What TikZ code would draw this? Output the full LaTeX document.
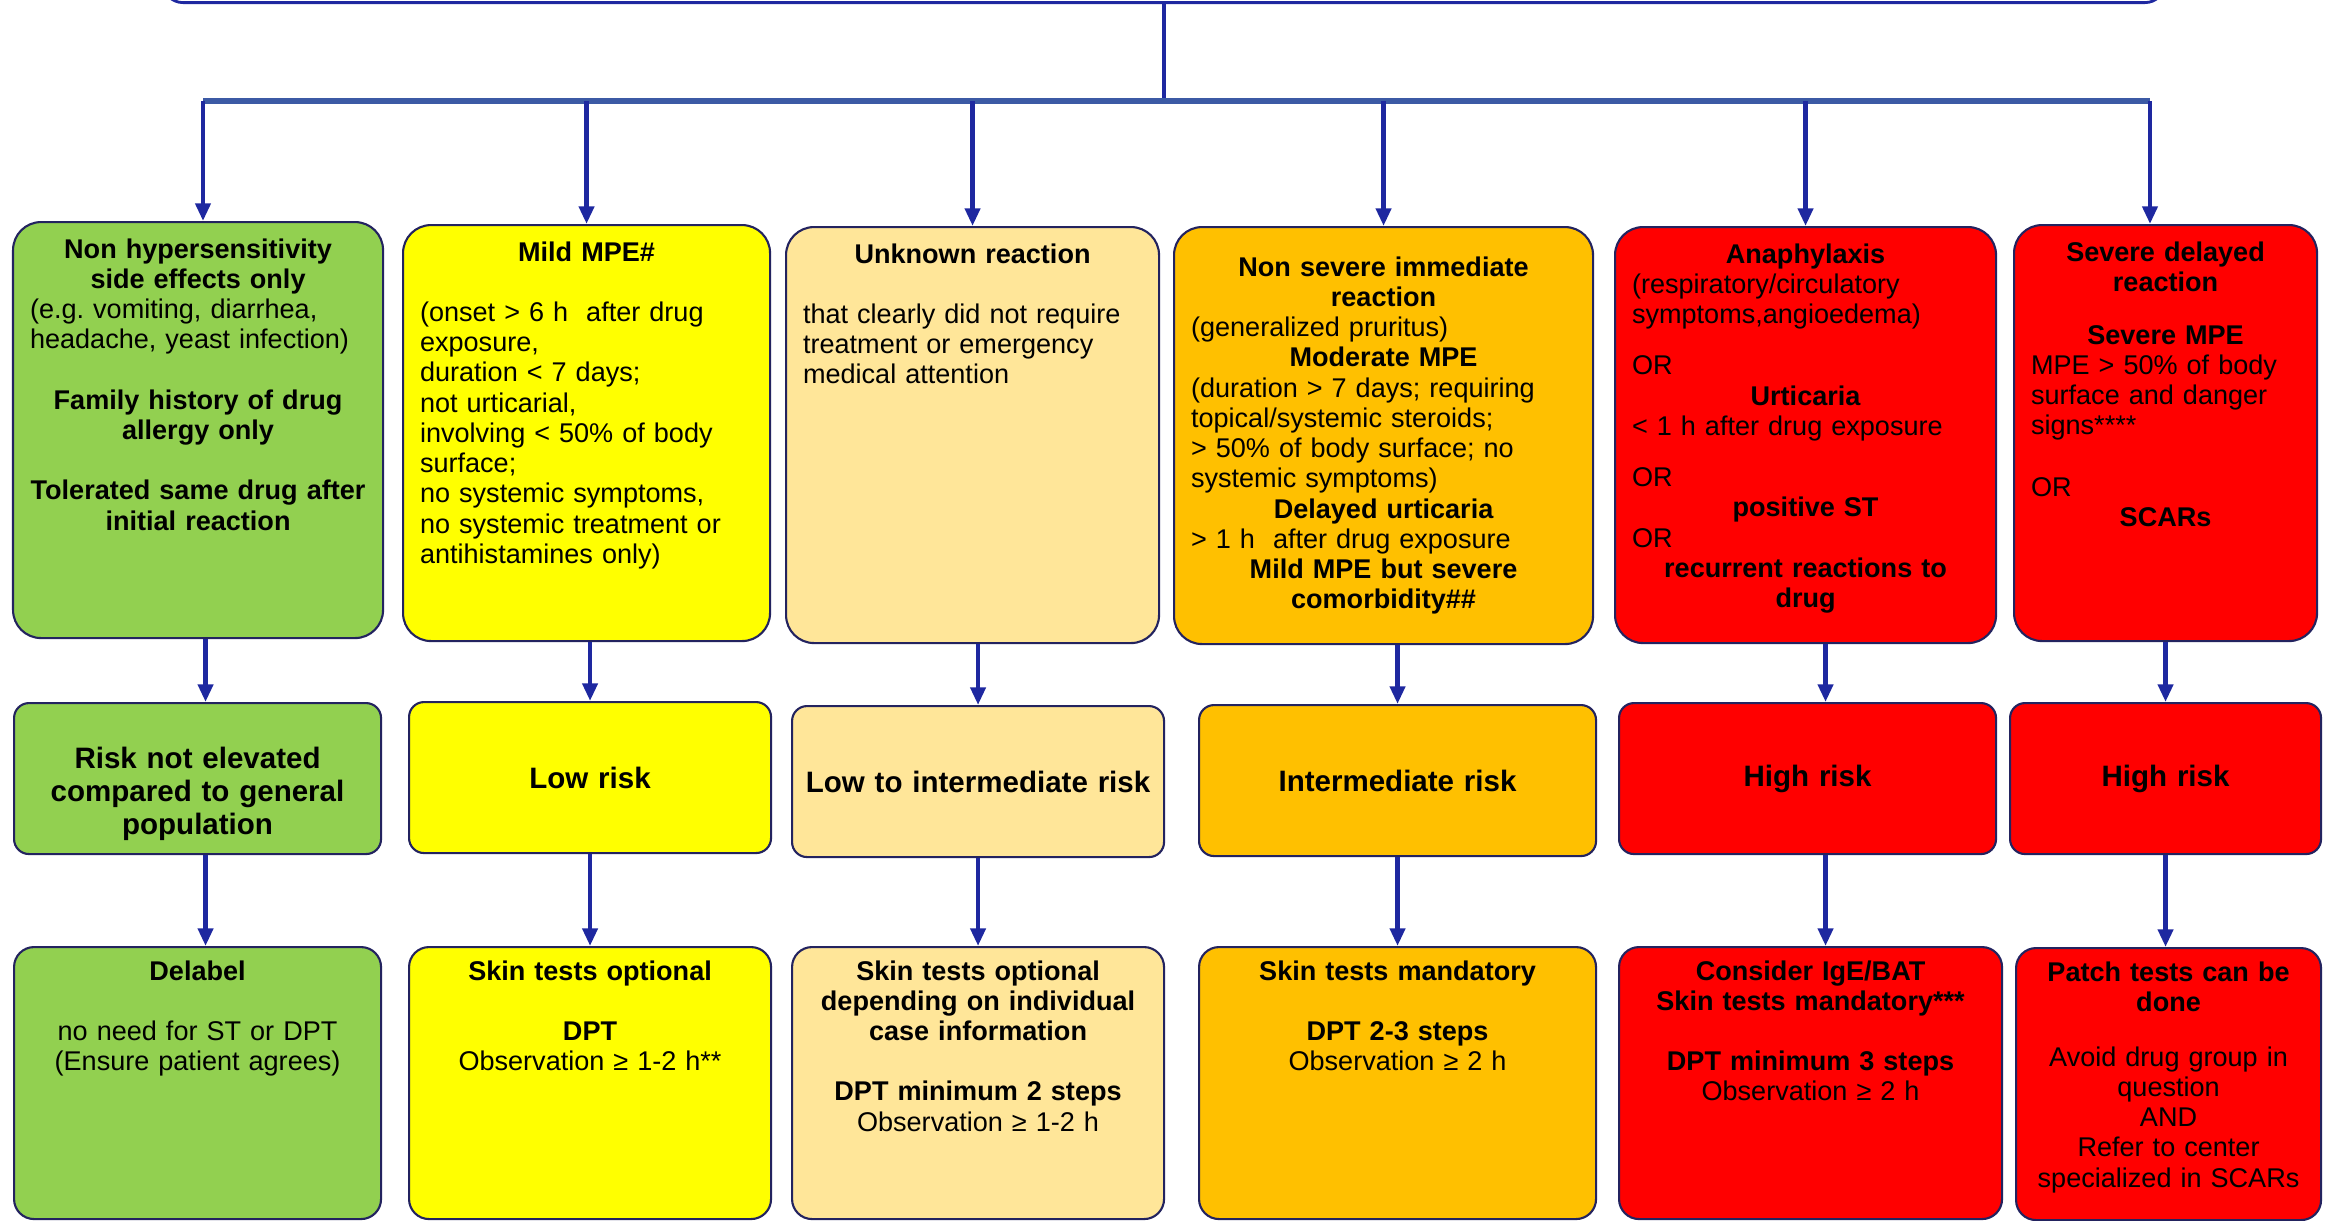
\documentclass[tikz,border=0pt]{standalone}
\usepackage{fontspec}
\setmainfont{Liberation Sans}
\frenchspacing
\usepackage{tikz}
\usetikzlibrary{arrows.meta}

\definecolor{cgreen}{RGB}{146,208,80}
\definecolor{cyellow}{RGB}{255,255,0}
\definecolor{cwheat}{RGB}{255,230,153}
\definecolor{corange}{RGB}{255,192,0}
\definecolor{cred}{RGB}{255,0,0}
\definecolor{edge}{RGB}{35,35,95}
\definecolor{flow}{RGB}{30,40,160}
\definecolor{bus}{RGB}{60,90,165}

\begin{document}
\begin{tikzpicture}[
  card/.style={draw=edge,line width=0.6pt,rounded corners=0.28cm,anchor=north west,align=center,
               inner xsep=0.17cm,inner ysep=0.16cm,font=\fontsize{7.7}{8.6}\selectfont},
  crit/.style={card,text height=0.2cm,text depth=3.64cm},
  risk/.style={card,rounded corners=0.15cm,inner xsep=0.1cm,inner ysep=0.1cm,minimum height=1.51cm,
               font=\fontsize{8.4}{9.5}\selectfont\bfseries},
  plan/.style={card,rounded corners=0.2cm,inner ysep=0.13cm,text height=0.2cm,text depth=2.26cm},
  arr/.style={-{Triangle[length=5pt,width=4.2pt]},line width=1.35pt,draw=flow}]
\useasboundingbox (0,0) rectangle (23.28,-12.20);

% header box, cut by the top edge
\node[draw=flow,line width=0.8pt,rounded corners=0.2cm,minimum width=20.02cm,minimum height=1cm,
      anchor=south] (top) at (11.64,-0.04) {};
\coordinate (busL) at (2.03,-1.01);
\coordinate (busR) at (21.50,-1.01);

% reactions
\node[crit,fill=cgreen,text width=3.36cm] (c1) at (0.12,-2.21)
  {{\bfseries Non hypersensitivity\\side effects only\par}
   {\raggedright (e.g. vomiting, diarrhea,\\headache, yeast infection)\par}\vspace{8.6pt}
   {\bfseries Family history of drug\\allergy only\\[8.6pt]Tolerated same drug after\\initial reaction\par}};
\node[crit,fill=cyellow,text width=3.33cm] (c2) at (4.02,-2.24)
  {{\bfseries Mild MPE\#\par}\vspace{8.6pt}
   {\raggedright (onset > 6 h\ \ after drug\\exposure,\\duration < 7 days;\\not urticarial,\\involving < 50\% of body\\surface;\\no systemic symptoms,\\no systemic treatment or\\antihistamines only)\par}};
\node[crit,fill=cwheat,text width=3.39cm] (c3) at (7.85,-2.26)
  {{\bfseries Unknown reaction\par}\vspace{8.6pt}
   {\raggedright that clearly did not require\\treatment or emergency\\medical attention\par}};
\node[card,fill=corange,text width=3.85cm,minimum height=4.17cm] (c4) at (11.73,-2.26)
  {{\bfseries Non severe immediate\\reaction\par}
   {\raggedright (generalized pruritus)\par}
   {\bfseries Moderate MPE\par}
   {\raggedright (duration > 7 days; requiring\\topical/systemic steroids;\\> 50\% of body surface; no\\systemic symptoms)\par}
   {\bfseries Delayed urticaria\par}
   {\raggedright > 1 h\ \ after drug exposure\par}
   {\bfseries Mild MPE but severe\\comorbidity\#\#\par}};
\node[crit,fill=cred,text width=3.47cm] (c5) at (16.14,-2.26)
  {{\bfseries Anaphylaxis\par}
   {\raggedright (respiratory/circulatory\\symptoms,angioedema)\\[6pt]OR\par}
   {\bfseries Urticaria\par}
   {\raggedright < 1 h after drug exposure\\[6pt]OR\par}
   {\bfseries positive ST\par}
   {\raggedright OR\par}
   {\bfseries recurrent reactions to\\drug\par}};
\node[crit,fill=cred,text width=2.69cm] (c6) at (20.13,-2.24)
  {{\bfseries Severe delayed\\reaction\par}\vspace{6.4pt}
   {\bfseries Severe MPE\par}
   {\raggedright MPE > 50\% of body\\surface and danger\\signs****\\[9pt]OR\par}
   {\bfseries SCARs\par}};

% risk level
\node[risk,fill=cgreen,text width=3.47cm,text height=0.55cm,text depth=0.76cm] (r1) at (0.13,-7.02)
  {Risk not elevated\\compared to general\\population};
\node[risk,fill=cyellow,text width=3.42cm] (r2) at (4.08,-7.01) {Low risk};
\node[risk,fill=cwheat,text width=3.52cm] (r3) at (7.91,-7.05) {Low to intermediate risk};
\node[risk,fill=corange,text width=3.77cm] (r4) at (11.98,-7.04) {Intermediate risk};
\node[risk,fill=cred,text width=3.57cm] (r5) at (16.18,-7.02) {High risk};
\node[risk,fill=cred,text width=2.91cm] (r6) at (20.09,-7.02) {High risk};

% testing
\node[plan,fill=cgreen,text width=3.33cm] (a1) at (0.13,-9.46)
  {{\bfseries Delabel\par}\vspace{8.6pt}no need for ST or DPT\\(Ensure patient agrees)};
\node[plan,fill=cyellow,text width=3.28cm] (a2) at (4.08,-9.46)
  {{\bfseries Skin tests optional\par}\vspace{8.6pt}{\bfseries DPT\par}Observation ≥ 1-2 h**};
\node[plan,fill=cwheat,text width=3.38cm] (a3) at (7.91,-9.46)
  {{\bfseries Skin tests optional\\depending on individual\\case information\par}\vspace{8.6pt}
   {\bfseries DPT minimum 2 steps\par}Observation ≥ 1-2 h};
\node[plan,fill=corange,text width=3.63cm] (a4) at (11.98,-9.46)
  {{\bfseries Skin tests mandatory\par}\vspace{8.6pt}{\bfseries DPT 2-3 steps\par}Observation ≥ 2 h};
\node[plan,fill=cred,text width=3.49cm] (a5) at (16.18,-9.46)
  {{\bfseries Consider IgE/BAT\\Skin tests mandatory***\par}\vspace{8.6pt}
   {\bfseries DPT minimum 3 steps\par}Observation ≥ 2 h};
\node[plan,fill=cred,text width=2.71cm] (a6) at (20.15,-9.47)
  {{\bfseries Patch tests can be\\done\par}\vspace{7pt}
   Avoid drug group in\\question\\AND\\Refer to center\\specialized in SCARs};

% connectors
\draw[flow,line width=1.3pt] (top.south) -- (top.south |- busL);
\draw[bus,line width=1.7pt] (busL) -- (busR);
\draw[arr] (busL) -- (busL |- c1.north); \draw[arr] (c2.north |- busL) -- (c2.north);
\draw[arr] (c3.north |- busL) -- (c3.north); \draw[arr] (c4.north |- busL) -- (c4.north);
\draw[arr] (c5.north |- busL) -- (c5.north); \draw[arr] (busR) -- (busR |- c6.north);
\draw[arr] ([xshift=0.08cm]r1.north |- c1.south) -- ([xshift=0.08cm]r1.north);
\draw[arr] (r2.north |- c2.south) -- (r2.north);
\draw[arr] (r3.north |- c3.south) -- (r3.north); \draw[arr] (r4.north |- c4.south) -- (r4.north);
\draw[arr] ([xshift=0.18cm]r5.north |- c5.south) -- ([xshift=0.18cm]r5.north);
\draw[arr] (r6.north |- c6.south) -- (r6.north);
\draw[arr] ([xshift=0.08cm]r1.south) -- ([xshift=0.08cm]r1.south |- a1.north);
\draw[arr] (r2.south) -- (r2.south |- a2.north);
\draw[arr] (r3.south) -- (r3.south |- a3.north); \draw[arr] (r4.south) -- (r4.south |- a4.north);
\draw[arr] ([xshift=0.18cm]r5.south) -- ([xshift=0.18cm]r5.south |- a5.north);
\draw[arr] (r6.south) -- (r6.south |- a6.north);
\end{tikzpicture}
\end{document}
